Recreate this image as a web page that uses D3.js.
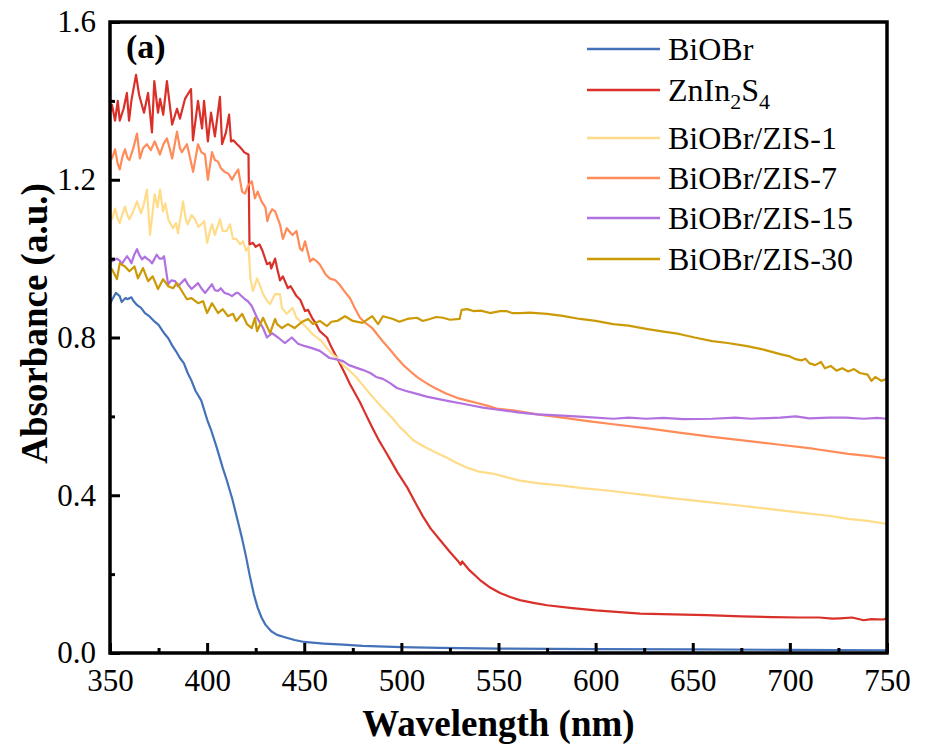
<!DOCTYPE html>
<html>
<head>
<meta charset="utf-8">
<script src="https://cdn.jsdelivr.net/npm/d3@7"></script>
<style>
  html, body { margin: 0; padding: 0; background: #fff; }
  svg { display: block; font-family: "Liberation Serif", "Times New Roman", serif; }
</style>
</head>
<body>
<svg id="chart" width="931" height="751"></svg>
<script>
// ---------------- data (wavelength nm, absorbance a.u.) ----------------
const seriesNames = ["BiOBr", "ZnIn2S4", "BiOBr/ZIS-1", "BiOBr/ZIS-7", "BiOBr/ZIS-15", "BiOBr/ZIS-30"];
const seriesColors = ["#4472b8", "#d9302a", "#ffdc8a", "#ff8b58", "#b271e0", "#cc9a06"];

const biobr = [[350,0.885],[351,0.895],[353,0.913],[355,0.905],[356,0.89],[358,0.9],[359,0.897],[361,0.902],[362,0.893],[364,0.882],[366,0.875],[368,0.862],[370,0.855],[373,0.84],[375,0.832],[378,0.81],[380,0.798],[382,0.78],[384,0.765],[386,0.748],[388,0.735],[390,0.71],[392,0.69],[394,0.665],[397,0.64],[400,0.592],[402,0.566],[405,0.52],[408,0.47],[410,0.44],[413,0.39],[416,0.33],[418,0.29],[420,0.245],[422,0.195],[424,0.15],[426,0.115],[428,0.09],[430,0.072],[433,0.055],[436,0.046],[440,0.04],[445,0.033],[450,0.028],[460,0.024],[470,0.021],[480,0.018],[500,0.015],[520,0.013],[550,0.011],[600,0.01],[650,0.009],[700,0.008],[750,0.007]];

const znIn2S4 = [[350,1.37],[351,1.39],[352.6,1.35],[354,1.40],[355,1.35],[357,1.38],[358.7,1.42],[359.8,1.35],[361,1.40],[363.4,1.466],[365,1.415],[367.5,1.37],[369.6,1.42],[371.6,1.32],[372.8,1.45],[374.7,1.37],[375.8,1.405],[377.4,1.365],[379.3,1.45],[382,1.34],[384.5,1.38],[386,1.355],[388.6,1.405],[391.7,1.43],[392.7,1.30],[395.3,1.40],[397.4,1.33],[398.4,1.40],[400.4,1.297],[402,1.37],[404,1.31],[406.6,1.41],[407.7,1.29],[409.7,1.32],[411.3,1.365],[412.3,1.297],[413.5,1.30],[415.4,1.29],[416.5,1.285],[418,1.277],[419,1.27],[420.5,1.266],[421.3,1.264],[421.8,1.036],[423.6,1.04],[425,1.03],[427,1.036],[428.5,1.02],[430.8,0.986],[432.4,0.99],[433,0.975],[435,1.0],[436,0.976],[437.5,0.945],[439,0.955],[441.6,0.925],[443,0.93],[446,0.905],[448,0.895],[450.4,0.867],[452,0.87],[454,0.85],[456,0.835],[458,0.816],[461.7,0.80],[464,0.775],[466.9,0.748],[471,0.708],[473.5,0.682],[476,0.66],[478.7,0.636],[481,0.612],[485,0.572],[488,0.543],[491.6,0.513],[495,0.484],[498,0.458],[503,0.42],[507,0.383],[511,0.347],[515,0.316],[520,0.286],[525,0.256],[529,0.234],[530.5,0.224],[531.3,0.232],[535,0.21],[540.5,0.185],[545,0.168],[550.8,0.152],[556,0.142],[561,0.134],[568,0.127],[575,0.121],[588,0.114],[600,0.108],[623,0.10],[640,0.098],[657,0.096],[675,0.093],[691,0.091],[705,0.09],[715,0.09],[722,0.087],[726,0.088],[732,0.09],[738,0.083],[742,0.086],[748,0.085],[750,0.088]];

const zis1 = [[350,1.11],[351,1.10],[352.6,1.127],[354,1.10],[355,1.09],[356.5,1.115],[357.7,1.132],[359,1.11],[360,1.10],[362,1.12],[363.9,1.145],[366,1.115],[367.5,1.14],[369,1.175],[370.6,1.06],[372,1.12],[373,1.163],[374.5,1.13],[375.7,1.175],[377.3,1.12],[378.5,1.14],[380,1.10],[382.4,1.077],[384,1.09],[385,1.064],[387.6,1.145],[389,1.10],[390,1.087],[392,1.11],[393.8,1.10],[395.5,1.08],[397,1.087],[398.5,1.095],[400,1.04],[401.5,1.07],[402.5,1.087],[404,1.06],[406.6,1.10],[408,1.07],[410,1.07],[411.8,1.087],[413.3,1.05],[415,1.05],[417,1.036],[418.5,1.044],[420,1.02],[421.3,1.03],[422.3,0.95],[423.6,0.918],[425.7,0.95],[427,0.935],[428.8,0.91],[431,0.892],[432.4,0.885],[435,0.91],[437.5,0.91],[438.5,0.875],[441,0.86],[443,0.87],[444,0.875],[446,0.85],[447.8,0.842],[451.4,0.824],[454,0.81],[456.5,0.80],[459,0.79],[461.7,0.773],[464,0.76],[467,0.748],[470,0.73],[473.5,0.715],[477,0.698],[480,0.68],[483,0.662],[486,0.645],[489,0.628],[492.6,0.61],[496,0.592],[499,0.574],[502,0.56],[506,0.54],[510,0.528],[513,0.52],[518,0.508],[523.5,0.495],[528,0.483],[533.8,0.47],[540,0.46],[547,0.455],[554,0.446],[561,0.437],[571,0.43],[581.7,0.425],[593,0.418],[605.8,0.412],[623,0.402],[640,0.392],[657,0.383],[674,0.374],[691,0.364],[708.8,0.354],[720,0.348],[730,0.34],[740,0.335],[748,0.329],[750,0.327]];

const zis7 = [[350,1.26],[351,1.254],[352.6,1.277],[354,1.24],[355,1.226],[356.5,1.26],[357.7,1.277],[359,1.255],[360,1.25],[362,1.28],[363.9,1.317],[365.4,1.254],[367,1.28],[369,1.29],[371,1.275],[373,1.297],[374.5,1.28],[375.7,1.264],[377.5,1.29],[379.3,1.305],[380.7,1.28],[382,1.254],[384.5,1.322],[386,1.28],[387,1.27],[389.6,1.29],[391,1.26],[392.8,1.22],[395.3,1.29],[397,1.27],[398.9,1.264],[400.4,1.20],[402.5,1.27],[404,1.25],[405.6,1.246],[407,1.23],[409,1.22],[411,1.215],[412.8,1.20],[414.5,1.215],[416,1.226],[418,1.17],[419.5,1.165],[421,1.185],[423,1.196],[424.6,1.153],[426,1.17],[428,1.145],[430,1.13],[431,1.095],[432,1.112],[433.5,1.125],[435,1.12],[437.5,1.087],[439,1.05],[441,1.077],[443,1.065],[444,1.06],[446,1.07],[447.8,1.026],[449,1.02],[450.4,1.044],[453,0.993],[454.5,1.0],[456,0.995],[458,0.985],[461,0.96],[463,0.95],[466,0.945],[468,0.935],[471,0.915],[473.5,0.90],[476,0.875],[478.7,0.85],[482,0.835],[485,0.824],[488,0.805],[490.5,0.79],[494,0.77],[497.7,0.748],[501,0.73],[504.4,0.715],[508,0.70],[511,0.69],[515,0.678],[518,0.67],[523,0.658],[528.6,0.647],[534,0.64],[539,0.634],[545,0.626],[549,0.62],[557.5,0.615],[570,0.605],[583,0.597],[596,0.588],[609,0.58],[626,0.57],[643,0.559],[660,0.548],[678,0.538],[695,0.528],[712,0.518],[730,0.505],[740,0.50],[748,0.495],[750,0.493]];

const zis15 = [[350,0.99],[351,0.993],[353.6,1.0],[355,0.995],[356,0.986],[358.7,1.006],[360,0.998],[361,0.988],[362.5,1.01],[363.9,1.024],[365,1.01],[366.5,0.998],[368,1.005],[369,1.0],[370.5,0.995],[371.6,0.988],[373,1.0],[374,1.01],[375.5,1.0],[376.8,1.0],[377.8,1.006],[379.9,0.935],[381.5,0.945],[383.5,0.943],[385,0.93],[386,0.935],[388.6,0.948],[390,0.935],[392,0.923],[395.3,0.938],[397,0.925],[399,0.913],[402.5,0.935],[404,0.92],[405.6,0.918],[407,0.925],[409,0.913],[411,0.91],[412.8,0.905],[415,0.913],[416,0.913],[419.5,0.897],[421,0.892],[423,0.88],[425.7,0.85],[428.8,0.824],[430.8,0.80],[433.4,0.811],[436.5,0.80],[440,0.786],[443.6,0.80],[446.8,0.784],[450.4,0.778],[454,0.773],[458,0.766],[463,0.748],[466,0.745],[470,0.74],[473,0.73],[477,0.723],[480,0.718],[484,0.71],[487,0.70],[490.5,0.695],[494,0.685],[497.7,0.672],[502,0.665],[508,0.657],[513,0.65],[518,0.645],[525,0.638],[531.7,0.632],[537,0.627],[542,0.622],[548,0.618],[554.4,0.614],[560,0.61],[570,0.605],[583,0.602],[596,0.598],[609,0.594],[617,0.597],[626,0.594],[635,0.596],[645,0.593],[660,0.594],[672,0.597],[680,0.594],[695,0.597],[703,0.6],[710,0.595],[720,0.597],[729,0.597],[738,0.594],[745,0.596],[750,0.594]];

const zis30 = [[350,0.975],[351,0.973],[353.6,0.948],[355,0.988],[357.7,0.98],[360,0.968],[362.6,0.98],[364.4,0.95],[367,0.976],[369.6,0.943],[372,0.955],[374.7,0.923],[377.3,0.948],[380,0.93],[382.4,0.925],[384.5,0.938],[387,0.918],[389.6,0.897],[392,0.90],[395.3,0.887],[397.9,0.892],[400,0.862],[402.5,0.887],[405.6,0.862],[408,0.872],[410.7,0.854],[413.3,0.86],[415,0.842],[418,0.86],[420.5,0.834],[423,0.824],[424.6,0.85],[425.7,0.816],[428.8,0.85],[432.4,0.811],[435,0.847],[436,0.834],[438.5,0.824],[441.6,0.834],[445,0.824],[449,0.84],[452,0.847],[454.5,0.834],[458,0.842],[461.7,0.829],[464,0.84],[467,0.842],[471,0.854],[475,0.842],[480,0.837],[485,0.854],[488,0.834],[490.5,0.854],[495.7,0.847],[499,0.84],[503,0.847],[508,0.85],[511,0.842],[514.7,0.847],[518,0.852],[521.4,0.85],[525,0.845],[530,0.847],[531,0.87],[534,0.872],[537,0.867],[541,0.868],[545.6,0.862],[550.8,0.867],[554,0.867],[557,0.862],[561,0.862],[566,0.863],[575,0.86],[583,0.855],[592,0.847],[600,0.842],[609,0.834],[617,0.83],[626,0.822],[635,0.815],[643,0.809],[651,0.8],[660,0.791],[668,0.786],[678,0.778],[686,0.77],[695,0.758],[700,0.752],[703,0.745],[706,0.742],[708,0.746],[710,0.735],[713,0.73],[716,0.738],[718,0.722],[721,0.728],[724,0.716],[727,0.722],[730,0.714],[733,0.72],[736,0.71],[740,0.706],[742,0.69],[744,0.7],[747,0.69],[750,0.695]];

const xMajorTicks = [350, 400, 450, 500, 550, 600, 650, 700, 750];
const xMinorTicks = [375, 425, 475, 525, 575, 625, 675, 725];
const yMajorTicks = [0.0, 0.4, 0.8, 1.2, 1.6];
const yMinorTicks = [0.2, 0.6, 1.0, 1.4];
const xTitle = "Wavelength (nm)";
const yTitle = "Absorbance (a.u.)";
const panelLabel = "(a)";

// ---------------- drawing ----------------
const allSeries = [biobr, znIn2S4, zis1, zis7, zis15, zis30];
const svg = d3.select("#chart");
const L = 110, R = 887, T = 22, B = 653;

const x = d3.scaleLinear().domain([350, 750]).range([L, R]);
const y = d3.scaleLinear().domain([0, 1.6]).range([B, T]);

svg.append("defs").append("clipPath").attr("id", "plotclip")
  .append("rect").attr("x", L).attr("y", T).attr("width", R - L).attr("height", B - T);

const line = d3.line().x(d => x(d[0])).y(d => y(d[1]));
const plot = svg.append("g").attr("clip-path", "url(#plotclip)");
allSeries.forEach((s, i) => {
  plot.append("path").datum(s)
    .attr("d", line)
    .attr("fill", "none")
    .attr("stroke", seriesColors[i])
    .attr("stroke-width", 2.2)
    .attr("stroke-linejoin", "round");
});

// axes (ticks inward)
const fontSize = 31;
const xAxis = d3.axisBottom(x).tickValues(xMajorTicks).tickSizeInner(-10).tickSizeOuter(0).tickPadding(16).tickFormat(d3.format("d"));
const xAxisMinor = d3.axisBottom(x).tickValues(xMinorTicks).tickSizeInner(-5).tickSizeOuter(0).tickFormat("");
const yAxis = d3.axisLeft(y).tickValues(yMajorTicks).tickSizeInner(-10).tickSizeOuter(0).tickPadding(14).tickFormat(d3.format(".1f"));
const yAxisMinor = d3.axisLeft(y).tickValues(yMinorTicks).tickSizeInner(-5).tickSizeOuter(0).tickFormat("");

function styleAxis(g) {
  g.select(".domain").remove();
  g.selectAll(".tick line").attr("stroke", "#000").attr("stroke-width", 3);
  g.selectAll(".tick text").attr("fill", "#000")
    .style("font-size", fontSize + "px")
    .style("font-family", "'Liberation Serif', 'Times New Roman', serif");
}
svg.append("g").attr("transform", `translate(0,${B})`).call(xAxis).call(styleAxis);
svg.append("g").attr("transform", `translate(0,${B})`).call(xAxisMinor).call(styleAxis);
svg.append("g").attr("transform", `translate(${L},0)`).call(yAxis).call(styleAxis);
svg.append("g").attr("transform", `translate(${L},0)`).call(yAxisMinor).call(styleAxis);

// frame
svg.append("rect").attr("x", L).attr("y", T).attr("width", R - L).attr("height", B - T)
  .attr("fill", "none").attr("stroke", "#000").attr("stroke-width", 3.5);

// titles
svg.append("text").attr("x", (L + R) / 2).attr("y", 736)
  .attr("text-anchor", "middle").attr("font-weight", "bold").style("font-size", "37px")
  .text(xTitle);
svg.append("text").attr("transform", `translate(47,${(T + B) / 2 - 14}) rotate(-90)`)
  .attr("text-anchor", "middle").attr("font-weight", "bold").style("font-size", "37px")
  .text(yTitle);
svg.append("text").attr("x", 126).attr("y", 58)
  .attr("font-weight", "bold").style("font-size", "34px").text(panelLabel);

// legend
const legendY = [49, 90, 138, 178, 218, 259];
const leg = svg.append("g");
seriesNames.forEach((name, i) => {
  const yy = legendY[i];
  leg.append("line").attr("x1", 587).attr("x2", 660).attr("y1", yy).attr("y2", yy)
    .attr("stroke", seriesColors[i]).attr("stroke-width", 2.5);
  const t = leg.append("text").attr("x", 668).attr("y", yy + 11).style("font-size", "32px");
  if (name.indexOf("/") < 0 && /\d/.test(name)) {
    let shifted = false;
    name.split(/(\d)/).filter(p => p.length).forEach(p => {
      if (/\d/.test(p)) {
        t.append("tspan").attr("dy", shifted ? 0 : 8).style("font-size", "22px").text(p);
        shifted = true;
      } else {
        t.append("tspan").attr("dy", shifted ? -8 : 0).text(p);
        shifted = false;
      }
    });
  } else {
    t.text(name);
  }
});
</script>
</body>
</html>
